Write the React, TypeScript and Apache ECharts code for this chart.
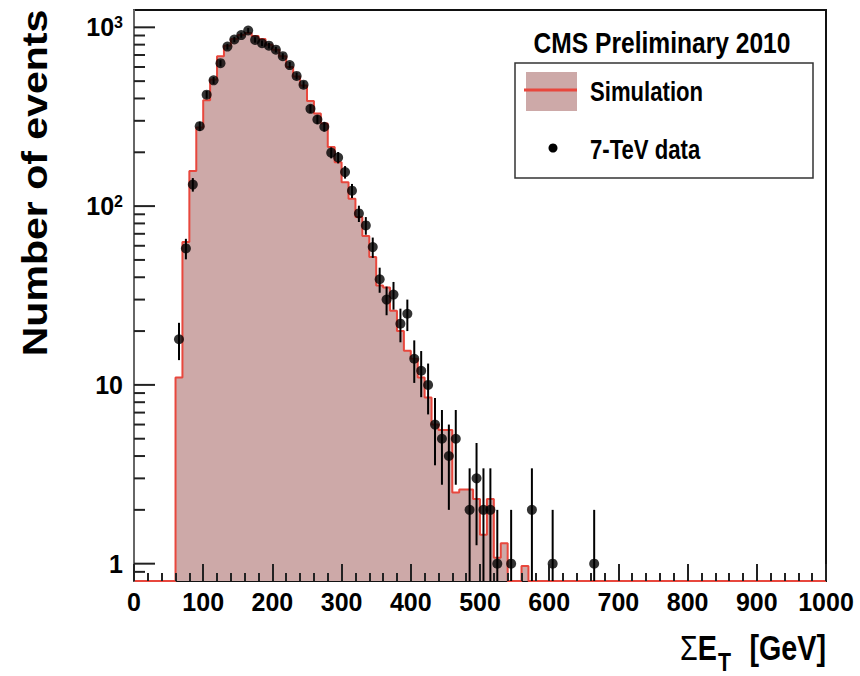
import React, { useEffect, useRef } from "react";
import * as echarts from "echarts";

// ---- axis ranges ----
const X_MIN = 0;
const X_MAX = 1000;
const Y_MIN = 0.8;
const Y_MAX = 1250;
const BIN_WIDTH = 10;

// ---- simulation histogram (lower bin edges in GeV, counts) ----
const mcBinLow = [
  60, 70, 80, 90, 100, 110, 120, 130, 140, 150, 160, 170, 180, 190, 200, 210, 220,
  230, 240, 250, 260, 270, 280, 290, 300, 310, 320, 330, 340, 350, 360, 370, 380,
  390, 400, 410, 420, 430, 440, 450, 460, 470, 480, 490, 500, 510, 520, 530, 540,
  550, 560, 570,
];
const mcCounts = [
  11, 63, 157, 275, 391, 510, 690, 790, 860, 905, 930, 895, 860, 800, 750, 690, 600,
  530, 473, 387, 330, 290, 214, 176, 136, 110, 87, 68, 52, 36, 35, 26, 20,
  15.5, 14, 11, 8.5, 6, 5.6, 5.6, 2.5, 2.6, 2.6, 2.3, 1.45, 2.3, 1.08, 1.3, 0,
  0, 0.97, 0,
];

// ---- 7-TeV data (bin centres in GeV, counts) ----
const dataCenters = [
  65, 75, 85, 95, 105, 115, 125, 135, 145, 155, 165, 175, 185, 195, 205, 215, 225,
  235, 245, 255, 265, 275, 285, 295, 305, 315, 325, 335, 345, 355, 365, 375, 385,
  395, 405, 415, 425, 435, 445, 455, 465, 485, 495, 505, 515, 525, 545, 575, 605, 665,
];
const dataCounts = [
  18, 58, 132, 280, 420, 505, 630, 780, 855, 905, 960, 850, 815, 790, 750, 690, 615,
  535, 478, 350, 305, 278, 199, 187, 155, 122, 91, 78, 59, 39, 30, 32, 22,
  25, 14, 12, 10, 6, 5, 4, 5, 2, 3, 2, 2, 1, 1, 2, 1, 1,
];

// ---- y-axis tick values (log axis) ----
const yMajorTicks = [1, 10, 100, 1000];
const yMinorTicks = [
  0.9, 2, 3, 4, 5, 6, 7, 8, 9, 20, 30, 40, 50, 60, 70, 80, 90, 200, 300, 400, 500,
  600, 700, 800, 900,
];

const FONT = '"Liberation Sans", Arial, Helvetica, sans-serif';
const FILL = "#cda9a8";
const RED = "#e8473d";
const NARROW = 0.82;

export default function App() {
  const ref = useRef<HTMLDivElement>(null);

  useEffect(() => {
    if (!ref.current) return;
    const chart = echarts.init(ref.current, undefined, { renderer: "svg" });

    // histogram outline points (step line)
    const hist: number[][] = [];
    hist.push([X_MIN, Y_MIN]);
    mcBinLow.forEach((lo, i) => hist.push([lo, Math.max(mcCounts[i], Y_MIN)]));
    hist.push([mcBinLow[mcBinLow.length - 1] + BIN_WIDTH, Y_MIN]);
    hist.push([X_MAX, Y_MIN]);

    const points = dataCenters.map((x, i) => [x, dataCounts[i]]);
    const errs = dataCenters.map((x, i) => {
      const n = dataCounts[i];
      const e = Math.sqrt(n);
      return [x, Math.max(n - e, Y_MIN), n + e];
    });
    const yTicks = [
      ...yMajorTicks.map((v) => [X_MIN, v, 1]),
      ...yMinorTicks.map((v) => [X_MIN, v, 0]),
    ];

    const option: any = {
      animation: false,
      backgroundColor: "#fff",
      textStyle: { fontFamily: FONT },
      grid: {
        left: 134,
        top: 10,
        right: 34,
        bottom: 95,
        show: true,
        borderColor: "#111",
        borderWidth: 2,
        backgroundColor: "transparent",
      },
      xAxis: {
        type: "value",
        min: X_MIN,
        max: X_MAX,
        interval: 100,
        z: 5,
        axisLine: { show: false },
        axisTick: {
          show: true,
          inside: true,
          length: 17,
          lineStyle: { color: "#222", width: 2 },
        },
        minorTick: {
          show: true,
          splitNumber: 5,
          length: 8,
          lineStyle: { color: "#222", width: 2 },
        },
        splitLine: { show: false },
        minorSplitLine: { show: false },
        axisLabel: {
          fontFamily: FONT,
          fontSize: 25,
          fontWeight: "bold",
          color: "#000",
          margin: 8,
          formatter: (v: number) => String(v),
        },
      },
      yAxis: {
        type: "log",
        logBase: 10,
        min: Y_MIN,
        max: Y_MAX,
        z: 5,
        axisLine: { show: true, lineStyle: { color: "#666", width: 2 } },
        axisTick: { show: false },
        splitLine: { show: false },
        axisLabel: {
          fontFamily: FONT,
          fontSize: 25,
          fontWeight: "bold",
          color: "#000",
          margin: 11,
          showMinLabel: false,
          showMaxLabel: false,
          formatter: (v: number) => {
            const l = Math.log10(v);
            const k = Math.round(l);
            if (Math.abs(l - k) > 1e-6) return "";
            if (k === 0) return "1";
            if (k === 1) return "10";
            return "10{s|" + k + "}";
          },
          rich: {
            s: {
              fontFamily: FONT,
              fontSize: 16,
              fontWeight: "bold",
              color: "#000",
              lineHeight: 12,
              verticalAlign: "top",
            },
          },
        },
      },
      series: [
        {
          name: "Simulation",
          type: "line",
          data: hist,
          step: "end",
          symbol: "none",
          z: 2,
          lineStyle: { color: RED, width: 2 },
          areaStyle: { color: FILL, opacity: 1, origin: "start" },
          clip: true,
        },
        {
          name: "errors",
          type: "custom",
          z: 3,
          silent: true,
          data: errs,
          encode: { x: 0, y: [1, 2] },
          renderItem: (_p: any, api: any) => {
            const x = api.value(0);
            const a = api.coord([x, api.value(1)]);
            const b = api.coord([x, api.value(2)]);
            return {
              type: "line",
              shape: { x1: a[0], y1: a[1], x2: b[0], y2: b[1] },
              style: { stroke: "#000", lineWidth: 2 },
            };
          },
        },
        {
          name: "7-TeV data",
          type: "scatter",
          data: points,
          symbol: "circle",
          symbolSize: 10,
          z: 4,
          itemStyle: { color: "#000" },
        },
        {
          name: "yticks",
          type: "custom",
          z: 6,
          silent: true,
          data: yTicks,
          encode: { x: 0, y: 1 },
          renderItem: (_p: any, api: any) => {
            const p = api.coord([api.value(0), api.value(1)]);
            const len = api.value(2) ? 21 : 11;
            return {
              type: "line",
              shape: { x1: p[0], y1: p[1], x2: p[0] + len, y2: p[1] },
              style: { stroke: "#222", lineWidth: 2 },
            };
          },
        },
      ],
      graphic: [
        {
          type: "text",
          x: 34,
          y: 183,
          rotation: Math.PI / 2,
          scaleX: 1.14,
          style: {
            text: "Number of events",
            fontFamily: FONT,
            fontSize: 36,
            fontWeight: "bold",
            fill: "#000",
            align: "center",
            verticalAlign: "middle",
          },
        },
        // x-axis title: ΣE_T [GeV]
        {
          type: "text",
          x: 717,
          y: 648,
          scaleX: NARROW,
          style: {
            text: "{n|Σ}{b|E}",
            align: "right",
            verticalAlign: "middle",
            rich: {
              n: { fontFamily: FONT, fontSize: 35, fontWeight: "normal", fill: "#000" },
              b: { fontFamily: FONT, fontSize: 35, fontWeight: "bold", fill: "#000" },
            },
          },
        },
        {
          type: "text",
          x: 718,
          y: 662,
          scaleX: NARROW,
          style: {
            text: "T",
            fontFamily: FONT,
            fontSize: 26,
            fontWeight: "bold",
            fill: "#000",
            align: "left",
            verticalAlign: "middle",
          },
        },
        {
          type: "text",
          x: 826,
          y: 648,
          scaleX: NARROW,
          style: {
            text: "[GeV]",
            fontFamily: FONT,
            fontSize: 35,
            fontWeight: "bold",
            fill: "#000",
            align: "right",
            verticalAlign: "middle",
          },
        },
        {
          type: "text",
          x: 662,
          y: 43,
          scaleX: NARROW,
          style: {
            text: "CMS Preliminary 2010",
            fontFamily: FONT,
            fontSize: 30,
            fontWeight: "bold",
            fill: "#000",
            align: "center",
            verticalAlign: "middle",
          },
        },
        {
          type: "rect",
          shape: { x: 515, y: 63, width: 298, height: 115 },
          style: { fill: "#fff", stroke: "#333", lineWidth: 1.5 },
        },
        {
          type: "rect",
          shape: { x: 526, y: 72, width: 51, height: 39 },
          style: { fill: FILL },
        },
        {
          type: "line",
          shape: { x1: 524, y1: 90, x2: 577, y2: 90 },
          style: { stroke: RED, lineWidth: 3 },
        },
        {
          type: "text",
          x: 590,
          y: 92,
          scaleX: NARROW,
          style: {
            text: "Simulation",
            fontFamily: FONT,
            fontSize: 27,
            fontWeight: "bold",
            fill: "#000",
            verticalAlign: "middle",
          },
        },
        {
          type: "circle",
          shape: { cx: 553, cy: 148, r: 4.5 },
          style: { fill: "#000" },
        },
        {
          type: "text",
          x: 590,
          y: 150,
          scaleX: NARROW,
          style: {
            text: "7-TeV data",
            fontFamily: FONT,
            fontSize: 27,
            fontWeight: "bold",
            fill: "#000",
            verticalAlign: "middle",
          },
        },
      ],
    };

    chart.setOption(option);
    return () => chart.dispose();
  }, []);

  return (
    <div
      ref={ref}
      style={{ position: "absolute", left: 0, top: 0, width: 860, height: 676 }}
    />
  );
}
